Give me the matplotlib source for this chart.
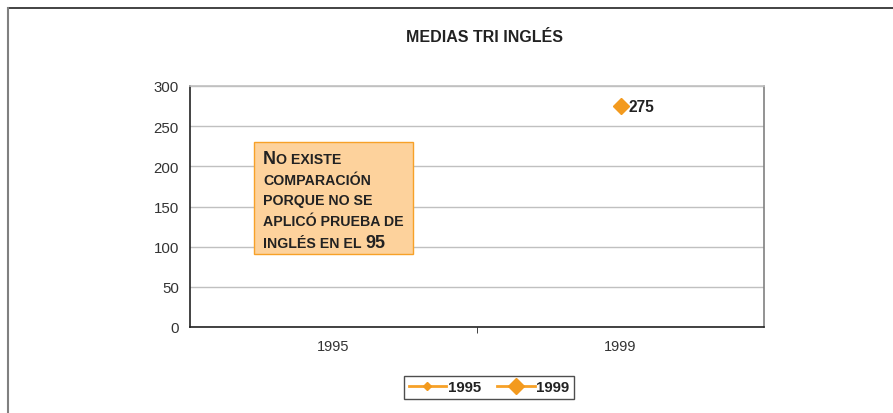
import numpy as np
import matplotlib
matplotlib.use("Agg")
import matplotlib.pyplot as plt
from matplotlib.lines import Line2D
from matplotlib.patches import Rectangle
from matplotlib.offsetbox import TextArea, HPacker, VPacker, AnchoredOffsetbox

categories = ["1995", "1999"]
series_names = ["1995", "1999"]
values_1995 = [np.nan, np.nan]
values_1999 = [np.nan, 275]
yticks = [0, 50, 100, 150, 200, 250, 300]
title = "MEDIAS TRI INGLÉS"

plt.rcParams['font.family'] = ['Liberation Sans', 'DejaVu Sans']

W, H = 893, 414
fig = plt.figure(figsize=(W / 100, H / 100), dpi=100)
L, R, T, B = 190, 764, 87, 328
ax = fig.add_axes([L / W, 1 - B / H, (R - L) / W, (B - T) / H])

orange = "#F7A128"
x = np.arange(len(categories))
ax.plot(x, values_1995, color=orange, lw=2, marker="D", ms=4, mfc="#F39A1E", mec="#F39A1E", label=series_names[0])
ax.plot(x, values_1999, color=orange, lw=2, marker="D", ms=8, mfc="#F39A1E", mec="#F39A1E", label=series_names[1])
ax.annotate("275", (x[1], values_1999[1]), xytext=(6, 0), textcoords="offset points",
            va="center", ha="left", fontsize=11.2, fontweight="bold", color="#222222")

ax.set_xlim(-0.5, 1.5)
ax.set_ylim(0, 300)
ax.set_yticks(yticks)
ax.set_yticklabels([str(v) for v in yticks], fontsize=10.8, color="#333333")
ax.tick_params(axis="y", which="major", length=0, pad=8)
ax.set_yticks([0, 100, 200, 300], minor=True)
ax.tick_params(axis="y", which="minor", length=4, direction="out", color="#222222")
ax.set_xticks(x)
ax.set_xticklabels(categories, fontsize=10.5, color="#333333")
ax.tick_params(axis="x", which="major", length=0, pad=9)
ax.set_xticks([0.5], minor=True)
ax.tick_params(axis="x", which="minor", length=4, direction="out", color="#222222")

ax.grid(axis="y", color="#C0C0C0", lw=1)
ax.set_axisbelow(True)
ax.spines["left"].set_color("#222222")
ax.spines["bottom"].set_color("#222222")
ax.spines["right"].set_color("#808080")
ax.spines["top"].set_color("#C0C0C0")
for s in ax.spines.values():
    s.set_linewidth(1.2)

# Note box
bx0, by_top, bw, bh = 254, 143, 159, 112
ax.add_patch(Rectangle(((bx0 - L) / (R - L), (B - (by_top + bh)) / (B - T)),
                       bw / (R - L), bh / (B - T), transform=ax.transAxes,
                       facecolor="#FDD29C", edgecolor="#F7A128", lw=1, zorder=3))

big = dict(fontsize=13, fontweight="bold", color="#222222")
small = dict(fontsize=10.2, fontweight="bold", color="#222222")
lines = [
    [("N", big), ("O EXISTE", small)],
    [("COMPARACIÓN", small)],
    [("PORQUE NO SE", small)],
    [("APLICÓ PRUEBA DE", small)],
    [("INGLÉS EN EL ", small), ("95", big)],
]
rows = []
for ln in lines:
    parts = [TextArea(t, textprops=p) for t, p in ln]
    rows.append(HPacker(children=parts, align="baseline", pad=0, sep=0))
vp = VPacker(children=rows, align="left", pad=0, sep=4.5)
ab = AnchoredOffsetbox(loc="upper left", child=vp, frameon=False, pad=0, borderpad=0,
                       bbox_to_anchor=((263 - L) / (R - L), (B - 151) / (B - T)),
                       bbox_transform=ax.transAxes)
ab.set_zorder(4)
ax.add_artist(ab)

fig.text(484 / W, 1 - 37 / H, title, ha="center", va="center", fontsize=11.5, fontweight="bold", color="#222222")

handles = [
    Line2D([], [], color=orange, lw=2, marker="D", ms=4, mfc="#F39A1E", mec="#F39A1E"),
    Line2D([], [], color=orange, lw=2, marker="D", ms=8, mfc="#F39A1E", mec="#F39A1E"),
]
leg = fig.legend(handles, series_names, loc="center", bbox_to_anchor=(489 / W, 1 - 388 / H),
                 ncol=2, frameon=True, fancybox=False, handlelength=2.5,
                 columnspacing=1.1, handletextpad=0.1, borderpad=0.3,
                 prop=dict(weight="bold", size=10.8))
leg.get_frame().set_edgecolor("#222222")
leg.get_frame().set_linewidth(1)
for t in leg.get_texts():
    t.set_color("#222222")

fig.add_artist(Line2D([8 / W, 1], [1 - 9 / H, 1 - 9 / H], transform=fig.transFigure, color="#222222", lw=1.2))
fig.add_artist(Line2D([8 / W, 8 / W], [0, 1 - 9 / H], transform=fig.transFigure, color="#808080", lw=1.5))

fig.savefig("out.png", dpi=100)
